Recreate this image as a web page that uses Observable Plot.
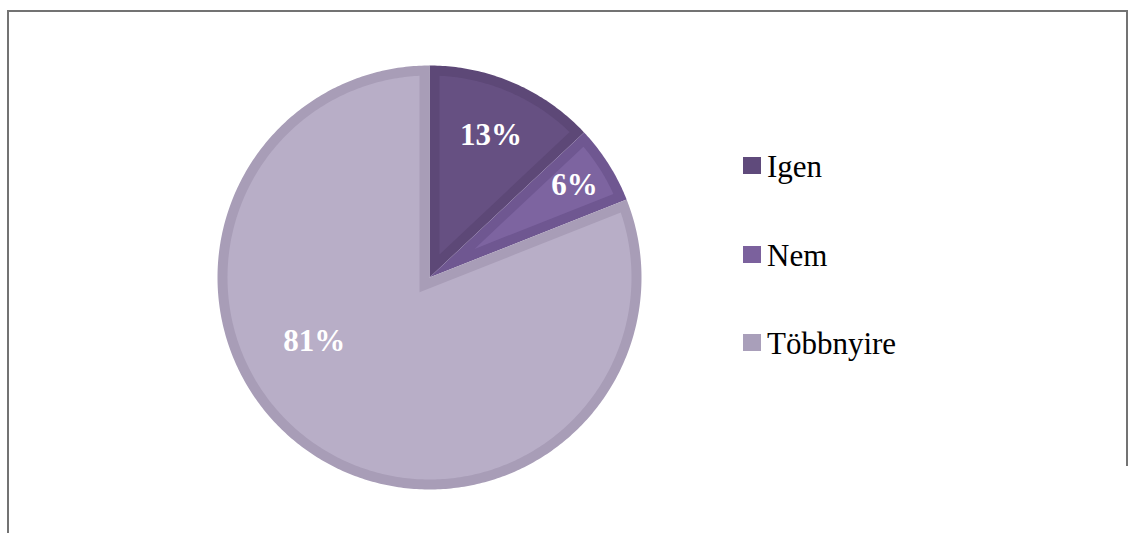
<!DOCTYPE html>
<html>
<head>
<meta charset="utf-8">
<script src="https://cdn.jsdelivr.net/npm/d3@7"></script>
<script src="https://cdn.jsdelivr.net/npm/@observablehq/plot@0.6"></script>
<style>
  html, body { margin: 0; padding: 0; background: #fff; }
  #wrap { position: relative; width: 1134px; height: 533px; overflow: hidden; }
  #frame { position: absolute; left: 7px; top: 10px; width: 1121px; height: 600px;
           border-top: 2px solid #737373; border-left: 2px solid #737373; box-sizing: border-box; }
  #frameR { position: absolute; left: 1126px; top: 10px; width: 2px; height: 456px; background: #737373; }
  #chart { position: absolute; left: 0; top: 0; }
  .leg { position: absolute; left: 743px; font-family: "Liberation Serif", "Times New Roman", serif; font-size: 31px; color: #000; line-height: 1; white-space: nowrap; }
  .leg .sw { position: absolute; left: 0; width: 18px; height: 17px; }
  .leg .tx { position: absolute; left: 24px; }
</style>
</head>
<body>
<div id="wrap">
  <div id="frame"></div>
  <div id="frameR"></div>
  <div id="chart"></div>
</div>
<script>
// ---- data ----
const categories = ["Igen", "Nem", "Többnyire"];
const values = [13, 6, 81];
const valueLabels = ["13%", "6%", "81%"];

// ---- styles ----
const fillColors  = ["#665082", "#7d64a0", "#b8aec7"];
const bevelColors = ["#5d4877", "#6f5791", "#a89db7"];
const legendColors = ["#5f4a7b", "#7b619d", "#a99fba"];
const labelRadius = [0.73, 0.81, 0.62];
const labelAngleShift = [0, 0, 27 * Math.PI / 180];
const bevel = 10 / 212; // bevel width in radius units

const total = d3.sum(values);
let acc = 0;
const slices = values.map((v, i) => {
  const a0 = acc / total * 2 * Math.PI;
  acc += v;
  const a1 = acc / total * 2 * Math.PI;
  return {i, cat: categories[i], a0, a1};
});

function arcPoints(a0, a1, r, n) {
  const pts = [];
  for (let k = 0; k <= n; k++) {
    const a = a0 + (a1 - a0) * k / n;
    pts.push({x: r * Math.sin(a), y: r * Math.cos(a)});
  }
  return pts;
}
function outerPoly(s) {
  const n = Math.max(8, Math.ceil((s.a1 - s.a0) * 80));
  return [{x: 0, y: 0}, ...arcPoints(s.a0, s.a1, 1, n), {x: 0, y: 0}];
}
function innerPoly(s) {
  const theta = s.a1 - s.a0;
  const mid = (s.a0 + s.a1) / 2;
  const apexR = bevel / Math.sin(theta / 2);
  const rr = 1 - bevel;
  const phi = Math.asin(bevel / rr);
  const apex = {x: apexR * Math.sin(mid), y: apexR * Math.cos(mid)};
  const n = Math.max(8, Math.ceil((theta - 2 * phi) * 80));
  return [apex, ...arcPoints(s.a0 + phi, s.a1 - phi, rr, n), apex];
}

const labelData = slices.map(s => {
  const mid = (s.a0 + s.a1) / 2 + labelAngleShift[s.i];
  const r = labelRadius[s.i];
  return {x: r * Math.sin(mid), y: r * Math.cos(mid), text: valueLabels[s.i]};
});

const marks = [];
slices.forEach(s => {
  marks.push(Plot.line(outerPoly(s), {x: "x", y: "y", fill: bevelColors[s.i], stroke: "none", curve: "linear"}));
  marks.push(Plot.line(innerPoly(s), {x: "x", y: "y", fill: fillColors[s.i], stroke: "none", curve: "linear"}));
});
marks.push(Plot.text(labelData, {x: "x", y: "y", text: "text", fill: "white", fontSize: 31, fontWeight: "bold",
  fontFamily: "Liberation Serif, Times New Roman, serif"}));

const W = 1134, H = 533;
const chart = Plot.plot({
  width: W, height: H,
  marginLeft: 217, marginRight: W - 641, marginTop: 65, marginBottom: H - 489,
  x: {domain: [-1, 1], axis: null},
  y: {domain: [-1, 1], axis: null},
  style: {background: "transparent", overflow: "visible"},
  marks
});
document.getElementById("chart").appendChild(chart);

// legend
const wrap = document.getElementById("wrap");
categories.forEach((c, i) => {
  const row = document.createElement("div");
  row.className = "leg";
  row.style.top = (151 + i * 88.5) + "px";
  row.innerHTML = `<div class="sw" style="top:6px;background:${legendColors[i]}"></div><span class="tx">${c}</span>`;
  wrap.appendChild(row);
});
</script>
</body>
</html>
